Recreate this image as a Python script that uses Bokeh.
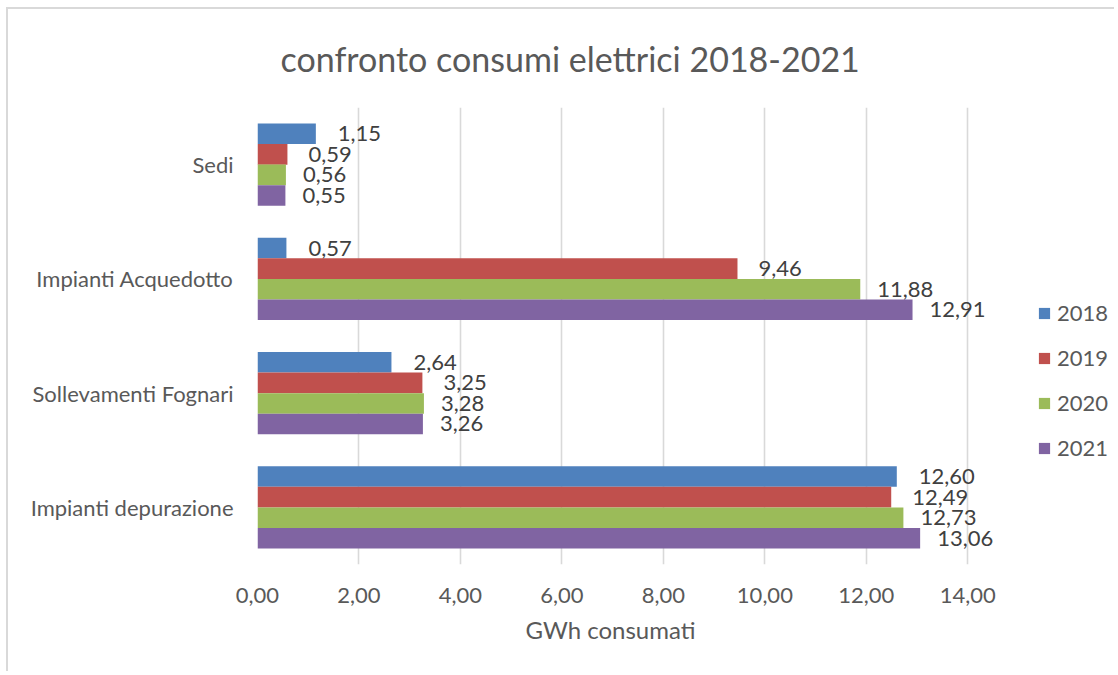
from bokeh.plotting import figure
from bokeh.models import (ColumnDataSource, FactorRange, Range1d, FixedTicker,
                          Legend, LegendItem, Title)
from bokeh.transform import dodge
from bokeh.core.properties import value
from bokeh.embed import file_html
from bokeh.resources import INLINE

# ---------------- data ----------------
categories = ["Sedi", "Impianti Acquedotto", "Sollevamenti Fognari", "Impianti depurazione"]
years = ["2018", "2019", "2020", "2021"]
v2018 = [1.15, 0.57, 2.64, 12.60]
v2019 = [0.59, 9.46, 3.25, 12.49]
v2020 = [0.56, 11.88, 3.28, 12.73]
v2021 = [0.55, 12.91, 3.26, 13.06]
x_ticks = [0, 2, 4, 6, 8, 10, 12, 14]
x_tick_labels = ["0,00", "2,00", "4,00", "6,00", "8,00", "10,00", "12,00", "14,00"]
title_text = "confronto consumi elettrici 2018-2021"
x_title = "GWh consumati"

# ---------------- style ----------------
colors = ["#4F81BD", "#C0504D", "#9BBB59", "#8064A2"]
offsets = [0.27, 0.09, -0.09, -0.27]
label_dx = [22, 21, 17, 17]
FONT = "Lato"
TXT = "#595959"
FS = "22px"

series = [v2018, v2019, v2020, v2021]

# the frame extends past the last gridline (14) to hold labels and legend
p = figure(width=1108, height=664, output_backend="svg", toolbar_location=None,
           y_range=FactorRange(factors=list(reversed(categories)), range_padding=0),
           x_range=Range1d(0, 16.93),
           min_border_left=249, min_border_right=0, min_border_top=98,
           min_border_bottom=109)
p.styles = {"border-top": "2px solid #d9d9d9", "border-left": "2px solid #d9d9d9",
            "margin-left": "6px", "margin-top": "7px"}
p.outline_line_color = None
p.background_fill_color = "white"
p.border_fill_color = "white"

items = []
for yr, vals, col, off, dx in zip(years, series, colors, offsets, label_dx):
    src = ColumnDataSource(dict(cat=categories, val=vals,
                                lab=[f"{v:.2f}".replace(".", ",") for v in vals]))
    r = p.hbar(y=dodge("cat", off, range=p.y_range), left=0, right="val", height=0.18,
               source=src, fill_color=col, line_color=None)
    p.text(x="val", y=dodge("cat", off, range=p.y_range), text="lab", source=src,
           x_offset=dx, text_align="left", text_baseline="middle",
           text_font=value(FONT), text_font_size=FS, text_color="#404040")
    items.append(LegendItem(label=yr, renderers=[r]))

# axes
p.xaxis.ticker = FixedTicker(ticks=x_ticks)
p.xaxis.major_label_overrides = dict(zip(x_ticks, x_tick_labels))
p.xaxis.axis_line_color = None
p.xaxis.major_tick_line_color = None
p.xaxis.minor_tick_line_color = None
p.xaxis.major_label_text_font = FONT
p.xaxis.major_label_text_font_size = FS
p.xaxis.major_label_text_color = TXT
p.xaxis.major_label_standoff = 17

p.yaxis.axis_line_color = None
p.yaxis.major_tick_line_color = None
p.yaxis.minor_tick_line_color = None
p.yaxis.major_label_text_font = FONT
p.yaxis.major_label_text_font_size = FS
p.yaxis.major_label_text_color = TXT
p.yaxis.major_label_standoff = 18

p.xgrid.grid_line_color = "#d9d9d9"
p.xgrid.grid_line_width = 1.6
p.ygrid.grid_line_color = None

# chart title
p.title = Title(text=title_text, align="left", offset=23, standoff=54,
                vertical_align="top",
                text_font=FONT, text_font_size="34px", text_font_style="normal",
                text_color=TXT)

# x-axis title
p.add_layout(Title(text=x_title, align="left", offset=268, standoff=15,
                   text_font=FONT, text_font_size="24px", text_font_style="normal",
                   text_color=TXT), "below")

# legend
legend = Legend(items=items, location=(780, 103), orientation="vertical",
                glyph_width=14, glyph_height=14, label_standoff=6, label_height=20,
                spacing=18, padding=0, margin=0, border_line_color=None,
                background_fill_alpha=0, label_text_font=FONT,
                label_text_font_size=FS, label_text_color=TXT)
p.add_layout(legend)

open("out.html", "w").write(file_html(p, INLINE))
